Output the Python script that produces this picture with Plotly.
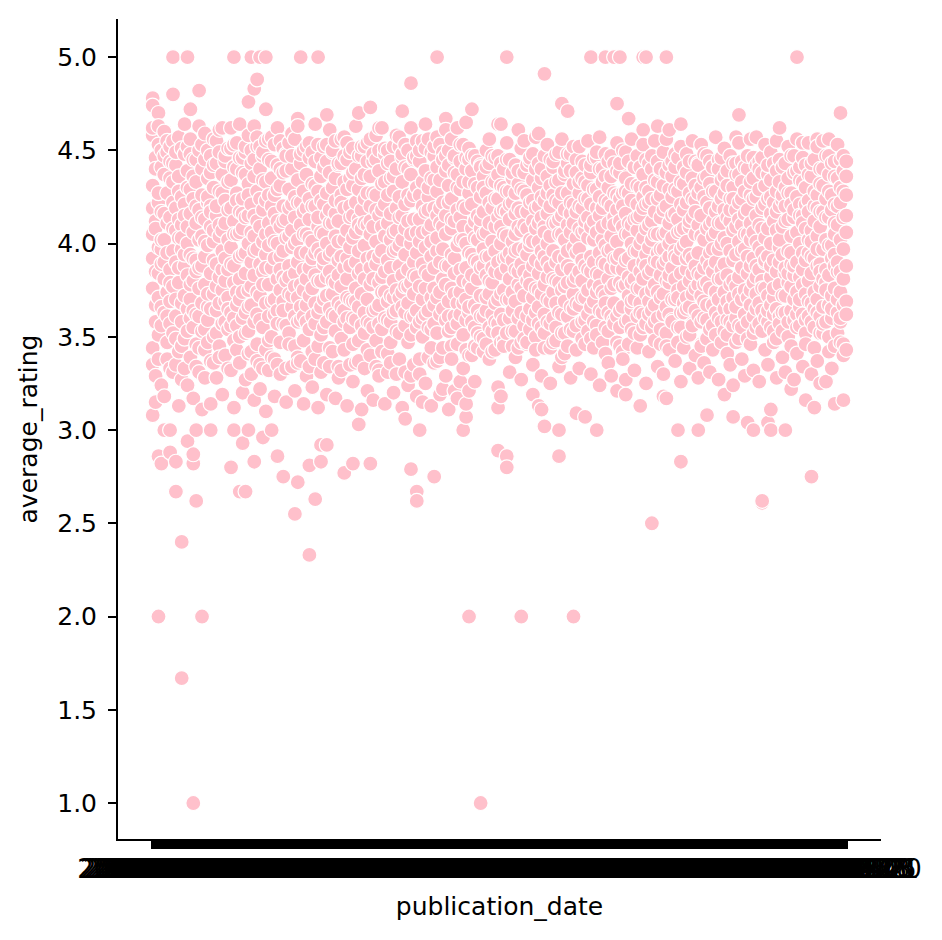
import plotly.graph_objects as go

# publication dates, in the order they appear (one category each)
dates = [
    "2006-09-16", "2004-09-01", "2003-11-01", "2004-05-01", "2004-09-13", "2005-04-26", "2005-09-12", "2005-11-01", "2002-04-30", "2003-08-03",
    "2004-10-01", "2000-03-29", "2001-08-15", "2002-09-01", "2005-01-01", "2003-04-08", "2005-06-01", "2004-02-10", "2006-10-17", "2001-05-01",
    "2007-08-01", "2000-10-03", "2006-05-02", "2003-01-28", "2004-06-08", "2002-11-12", "2005-10-04", "2001-09-11", "2006-03-14", "2007-02-06",
    "2003-06-24", "2004-12-28", "2002-03-19", "2005-08-16", "2000-08-22", "2006-07-25", "2001-01-30", "2007-05-15", "2003-10-14", "2004-03-23",
    "2002-07-09", "2005-03-01", "2006-01-10", "2000-05-16", "2001-11-20", "2007-09-25", "2003-02-18", "2004-08-31", "2005-12-27", "2002-10-29",
    "1999-06-01", "2006-11-07", "2001-03-27", "2004-07-13", "2003-09-30", "2007-01-16", "2000-12-05", "2005-05-10", "2002-01-22", "2006-08-29",
    "1998-10-13", "2003-12-09", "2004-01-06", "2001-06-19", "2005-07-19", "2007-04-03", "2002-05-14", "2006-06-13", "2000-01-25", "1997-09-02",
    "2004-11-16", "2003-03-25", "2005-02-22", "2001-10-16", "2006-12-26", "2002-08-20", "2007-06-12", "1996-04-09", "2000-07-11", "2004-04-27",
    "2003-05-20", "2005-09-27", "2001-02-13", "2006-02-21", "2002-12-17", "1995-11-14", "2007-10-30", "2000-09-19", "2004-10-19", "2003-07-29",
    "2005-11-29", "2001-12-04", "2006-04-18", "2002-02-26", "1999-03-09", "2007-11-27", "2000-04-04", "2004-06-29", "2003-08-26", "2005-06-28",
    "2001-07-24", "2006-09-05", "2002-06-25", "1998-02-17", "2007-03-13", "2000-11-28", "2004-02-24", "2003-11-25", "2005-04-12", "2001-04-17",
    "2006-05-30", "2002-09-24", "1997-05-27", "2007-07-31", "2000-02-29", "2004-09-28", "2003-01-07", "2005-10-25", "2001-09-25", "2006-10-31",
    "2002-04-09", "1996-08-06", "2007-12-18", "2000-06-27", "2004-05-18", "2003-04-29", "2005-01-18", "2001-11-06", "2006-03-28", "2002-11-26",
    "1999-10-19", "2008-01-08", "2000-10-24", "2004-12-07", "2003-06-10", "2005-08-02", "2001-01-09", "2006-07-04", "2002-03-05", "1998-06-30",
    "2008-02-19", "2000-08-08", "2004-03-09", "2003-10-28", "2005-03-22", "2001-05-22", "2006-01-31", "2002-07-30", "1997-12-02", "2008-03-11",
    "2000-05-30", "2004-08-10", "2003-02-04", "2005-12-13", "2001-08-28", "2006-11-21", "2002-10-08", "1999-01-12", "2008-04-15", "2000-12-19",
    "2004-07-27", "2003-09-09", "2005-05-24", "2001-03-13", "2006-08-15", "2002-01-08", "1996-10-22", "2008-05-20", "2000-01-11", "2004-11-30",
    "2003-12-30", "2005-07-05", "2001-06-05", "2006-06-27", "2002-05-28", "1995-03-14", "2008-06-24", "2000-07-25", "2004-04-13", "2003-05-06",
    "2005-09-06", "2001-02-27", "2006-02-07", "2002-12-03", "1998-09-15", "2008-07-29", "2000-09-05", "2004-10-05", "2003-07-15", "2005-11-15",
    "2001-12-18", "2006-04-04", "2002-02-12", "1999-07-20", "2008-08-26", "2000-04-18", "2004-06-15", "2003-08-12", "2005-06-14", "2001-07-10",
    "2006-09-19", "2002-06-11", "1997-02-11", "2008-09-30", "2000-11-14", "2004-02-03", "2003-11-11", "2005-04-05", "2001-04-03", "2006-05-16",
    "2002-09-10", "1996-01-16", "2008-10-28", "2000-02-08", "2004-09-07", "2003-01-21", "2005-10-11", "2001-09-04", "2006-10-10", "2002-04-23",
    "1994-05-10", "2008-11-11", "2000-06-13", "2004-05-04", "2003-04-15", "2005-01-25", "2001-11-13", "2006-03-07", "2002-11-05", "1999-12-14",
    "2009-01-20", "2000-10-10", "2004-12-14", "2003-06-17", "2005-08-23", "2001-01-23", "2006-07-18", "2002-03-26", "2007-08-21", "2004-04-20",
]
assert len(set(dates)) == len(dates)

# average_rating of books published on each date (same order as dates)
ratings = [
    [3.92, 4.31, 3.44, 4.05, 4.58, 4.78, 4.74, 3.08], [4.12, 3.67, 4.46, 3.29, 3.85], [3.71, 4.22, 3.98, 4.53, 3.38, 4.70, 2.0, 2.86], [4.41, 3.56, 3.89, 4.17, 3.24, 2.82],
    [3.63, 4.02, 4.37, 3.81, 4.60, 3.0], [4.27, 3.47, 3.95, 4.49, 3.74], [3.86, 4.14, 3.33, 4.44, 3.69, 2.88, 3.0], [4.08, 3.52, 4.33, 3.77, 4.55, 5.0, 4.80],
    [3.61, 4.19, 3.90, 4.42, 3.35, 2.67, 2.83], [4.36, 3.79, 4.03, 3.42, 4.57], [3.97, 4.25, 3.58, 4.10, 3.27, 1.67, 2.40], [4.48, 3.72, 3.88, 4.21, 3.49],
    [3.83, 4.39, 3.65, 4.00, 4.52, 5.0, 2.94], [4.16, 3.39, 3.94, 4.29, 3.70, 4.72], [3.55, 4.06, 4.45, 3.80, 4.24, 1.0, 2.82, 2.87], [4.33, 3.62, 4.11, 3.46, 3.91, 2.62, 3.0],
    [3.76, 4.50, 3.87, 4.18, 3.31, 4.82], [4.04, 3.68, 4.40, 3.53, 4.26, 2.0], [3.93, 4.13, 3.43, 4.59, 3.78], [4.22, 3.59, 3.99, 4.35, 3.66],
    [3.84, 4.47, 3.37, 4.09, 4.20, 3.0], [4.30, 3.73, 4.01, 3.50, 4.56], [3.64, 4.15, 3.89, 4.43, 3.28], [4.10, 3.45, 4.28, 3.82, 4.61],
    [3.96, 4.37, 3.57, 4.07, 3.75], [4.44, 3.69, 3.92, 4.23, 3.40], [3.71, 4.02, 4.51, 3.86, 3.54], [4.19, 3.63, 4.34, 3.98, 3.32, 2.80],
    [3.88, 4.41, 3.48, 4.12, 3.79, 5.0, 3.0], [4.27, 3.56, 4.05, 4.54, 3.67], [3.81, 4.17, 3.93, 3.36, 4.46, 2.67], [4.08, 3.74, 4.38, 3.60, 4.24, 2.93],
    [3.95, 4.49, 3.52, 4.14, 3.84, 2.67], [4.32, 3.66, 4.00, 3.41, 4.58, 4.76, 3.0], [3.77, 4.21, 3.90, 4.43, 3.30, 5.0], [4.15, 3.58, 4.36, 3.83, 4.04, 4.83, 2.83],
    [3.62, 4.28, 3.97, 4.52, 3.46, 4.88], [4.40, 3.72, 4.09, 3.35, 3.89, 5.0], [3.85, 4.18, 4.47, 3.55, 4.01, 2.96], [4.23, 3.68, 3.94, 4.33, 3.43, 5.0, 4.72],
    [3.99, 4.45, 3.61, 4.11, 3.78], [4.35, 3.50, 4.06, 3.87, 4.57, 3.0], [3.70, 4.26, 3.92, 4.16, 3.38], [4.12, 3.64, 4.42, 3.81, 4.00, 2.86],
    [3.93, 4.31, 3.47, 4.55, 3.75], [4.20, 3.57, 3.96, 4.38, 3.69, 2.75], [3.80, 4.13, 4.48, 3.33, 4.03], [4.29, 3.73, 3.88, 4.19, 3.52],
    [3.66, 4.40, 3.98, 4.07, 4.59], [4.14, 3.45, 4.25, 3.84, 3.61, 2.55], [3.90, 4.34, 3.71, 4.02, 3.39, 4.67, 2.72], [4.43, 3.59, 4.10, 3.78, 4.22, 5.0],
    [3.75, 4.17, 3.86, 4.50, 3.48], [4.05, 3.67, 4.37, 3.95, 3.29], [3.87, 4.24, 3.54, 4.13, 4.46, 2.33, 2.81], [4.32, 3.76, 4.01, 3.42, 3.92],
    [3.68, 4.44, 3.83, 4.20, 3.57, 2.63], [4.09, 3.63, 4.28, 3.97, 4.53, 5.0], [3.94, 4.36, 3.51, 4.06, 3.80, 2.83, 2.92], [4.21, 3.70, 3.89, 4.41, 3.36],
    [3.82, 4.15, 4.00, 3.58, 4.27, 4.69, 2.92], [4.38, 3.65, 4.11, 3.85, 3.44], [3.73, 4.30, 3.96, 4.49, 3.62], [4.16, 3.53, 4.04, 3.79, 4.23],
    [3.91, 4.42, 3.68, 4.12, 3.34], [4.26, 3.77, 3.93, 4.56, 3.49], [3.64, 4.19, 3.87, 4.33, 4.02, 2.77], [4.07, 3.60, 4.45, 3.81, 3.71],
    [3.98, 4.35, 3.55, 4.14, 3.88], [4.31, 3.69, 4.03, 3.46, 4.51, 2.82], [3.76, 4.22, 3.90, 4.40, 3.59], [4.13, 3.66, 4.29, 3.84, 3.37, 4.70, 3.03],
    [3.86, 4.47, 3.73, 4.08, 4.18], [4.24, 3.52, 3.99, 4.37, 3.63], [3.70, 4.10, 4.54, 3.92, 3.43], [4.36, 3.78, 4.05, 3.57, 4.20, 4.73, 2.82],
    [3.93, 4.27, 3.64, 4.44, 3.81], [4.18, 3.48, 4.01, 3.89, 4.58], [3.79, 4.39, 3.67, 4.15, 3.32, 4.62], [4.09, 3.74, 4.32, 3.96, 3.54],
    [3.85, 4.21, 3.60, 4.48, 4.04], [4.43, 3.69, 3.91, 4.11, 3.41], [3.72, 4.16, 3.87, 4.35, 3.58], [4.28, 3.63, 4.06, 3.80, 4.52],
    [3.97, 4.40, 3.53, 4.19, 3.75], [4.14, 3.71, 4.25, 3.88, 3.38], [3.83, 4.33, 3.66, 4.02, 4.46, 4.71], [4.21, 3.56, 3.94, 4.41, 3.77, 3.06],
    [3.68, 4.12, 4.50, 3.86, 3.47], [4.37, 3.79, 4.00, 3.61, 4.23, 4.86, 2.79], [3.90, 4.26, 3.73, 4.45, 3.35], [4.06, 3.64, 4.30, 3.95, 3.82, 2.67, 2.62],
    [3.77, 4.44, 3.58, 4.13, 4.01, 3.0], [4.33, 3.70, 3.89, 4.20, 3.50], [3.85, 4.17, 4.39, 3.62, 3.98], [4.25, 3.55, 4.07, 3.83, 4.56],
    [3.71, 4.35, 3.93, 4.10, 3.44], [4.19, 3.67, 4.47, 3.87, 3.76, 2.75], [3.96, 4.28, 3.52, 4.03, 4.41, 5.0], [4.11, 3.74, 3.90, 4.34, 3.39],
    [3.81, 4.22, 3.65, 4.49, 3.97], [4.39, 3.59, 4.05, 3.78, 4.15, 4.67], [3.69, 4.31, 3.88, 4.42, 3.53], [4.08, 3.76, 4.24, 3.94, 3.45],
    [3.92, 4.46, 3.61, 4.12, 3.84], [4.30, 3.68, 3.99, 4.37, 3.57], [3.74, 4.14, 3.86, 4.53, 4.02], [4.20, 3.51, 4.09, 3.80, 4.33, 3.0],
    [3.87, 4.40, 3.70, 4.00, 3.43, 4.65, 3.07], [4.27, 3.63, 3.95, 4.45, 3.79, 2.0, 3.21], [3.94, 4.21, 3.58, 4.39, 3.76, 4.72], [4.12, 3.67, 4.03, 3.45, 4.47],
    [3.81, 4.30, 3.90, 4.15, 3.52], [4.25, 3.72, 4.08, 3.61, 4.42, 1.0], [3.88, 4.17, 3.49, 4.36, 3.97], [4.06, 3.64, 4.27, 3.83, 4.50],
    [3.73, 4.43, 3.93, 4.11, 3.55], [4.33, 3.79, 4.01, 3.42, 4.19], [3.96, 4.24, 3.68, 4.46, 3.85], [4.14, 3.57, 4.37, 3.90, 3.70, 4.64, 2.89, 3.12],
    [3.84, 4.09, 4.31, 3.62, 4.00, 4.64, 3.18], [4.40, 3.75, 3.92, 4.18, 3.48], [3.70, 4.28, 3.87, 4.04, 4.45, 5.0, 2.86, 2.80], [4.21, 3.60, 4.13, 3.95, 3.81],
    [3.91, 4.35, 3.53, 4.22, 3.74], [4.05, 3.69, 4.42, 3.86, 4.16], [3.78, 4.19, 3.97, 3.44, 4.32, 4.61], [4.29, 3.63, 4.07, 3.89, 4.51, 2.0],
    [3.85, 4.38, 3.72, 4.10, 3.56], [4.17, 3.80, 3.94, 4.26, 3.46], [3.99, 4.44, 3.65, 4.02, 3.83], [4.34, 3.71, 4.12, 3.59, 4.23, 3.19],
    [3.76, 4.08, 3.91, 4.40, 3.50], [4.20, 3.66, 4.30, 3.84, 4.01, 4.59, 3.13], [3.89, 4.25, 3.55, 4.14, 3.73, 3.11], [4.09, 3.78, 4.47, 3.93, 3.62, 4.91, 3.02],
    [3.82, 4.16, 3.70, 4.36, 4.00], [4.31, 3.57, 4.04, 3.87, 4.20], [3.74, 4.41, 3.96, 4.11, 3.47], [4.23, 3.68, 3.90, 4.33, 3.80],
    [3.93, 4.13, 4.49, 3.63, 4.05, 2.86, 3.0], [4.15, 3.75, 3.86, 4.27, 3.52, 4.75], [3.69, 4.37, 4.02, 3.92, 4.18], [4.43, 3.61, 4.10, 3.79, 3.96, 4.71],
    [3.86, 4.22, 3.54, 4.06, 4.39], [4.11, 3.73, 4.32, 3.98, 3.65, 2.0], [3.95, 4.45, 3.82, 4.17, 3.43, 3.09], [4.27, 3.67, 3.97, 4.08, 4.52],
    [3.80, 4.19, 3.58, 4.35, 3.91], [4.07, 3.71, 4.24, 3.88, 4.42, 3.07], [3.75, 4.31, 4.03, 3.62, 4.14], [4.38, 3.85, 3.93, 4.21, 3.49, 5.0],
    [3.90, 4.12, 3.69, 4.46, 3.78], [4.19, 3.56, 4.06, 3.84, 4.29, 3.0], [3.83, 4.40, 3.95, 4.15, 3.64], [4.02, 3.74, 4.33, 3.47, 4.09],
    [3.72, 4.23, 3.89, 4.48, 3.99, 5.0], [4.30, 3.63, 4.11, 3.81, 3.53], [3.97, 4.36, 3.76, 4.04, 4.20], [4.14, 3.68, 4.43, 3.92, 3.59, 5.0],
    [3.87, 4.18, 3.61, 4.26, 4.01, 4.75, 3.21], [4.24, 3.79, 3.94, 4.38, 3.45, 5.0], [3.77, 4.09, 4.50, 3.86, 3.66], [4.35, 3.58, 4.05, 4.16, 3.91, 3.19],
    [3.92, 4.27, 3.72, 4.44, 3.82, 4.67], [4.10, 3.65, 4.00, 3.54, 4.32], [3.81, 4.41, 3.88, 4.13, 3.70], [4.21, 3.76, 4.07, 3.96, 4.47],
    [3.68, 4.15, 3.85, 4.30, 3.51, 3.13], [4.03, 3.62, 4.37, 3.90, 4.19, 5.0, 4.61], [3.94, 4.45, 3.73, 4.08, 3.57, 5.0], [4.28, 3.69, 3.98, 4.22, 3.84],
    [3.86, 4.12, 4.40, 3.64, 4.02, 2.50], [4.17, 3.78, 3.91, 4.34, 3.48], [3.74, 4.24, 3.60, 4.05, 3.95, 4.63], [4.39, 3.83, 4.14, 3.71, 4.26],
    [3.89, 4.31, 3.97, 4.49, 3.62, 3.18], [4.06, 3.66, 4.20, 3.80, 3.52, 5.0, 3.17], [3.79, 4.42, 3.93, 4.11, 4.00, 4.61], [4.25, 3.59, 4.03, 3.87, 4.36],
    [3.96, 4.16, 3.70, 4.29, 3.81], [4.13, 3.75, 4.46, 3.92, 3.55, 3.0], [3.84, 4.21, 3.63, 4.07, 4.33, 4.64, 2.83], [4.32, 3.68, 3.99, 4.18, 3.77],
    [3.71, 4.38, 3.86, 4.01, 3.50], [4.09, 3.80, 4.27, 3.94, 4.44], [3.92, 4.14, 3.57, 4.35, 3.73], [4.23, 3.64, 4.05, 3.88, 4.17],
    [3.78, 4.43, 3.95, 4.10, 3.61, 3.0], [4.15, 3.72, 4.30, 3.83, 3.46], [3.87, 4.25, 3.69, 4.48, 4.02], [4.36, 3.59, 4.08, 3.91, 3.79, 3.08],
    [3.95, 4.19, 3.76, 4.32, 3.54], [4.04, 3.67, 4.41, 3.85, 4.12], [3.73, 4.28, 3.90, 4.06, 3.63], [4.20, 3.81, 3.97, 4.45, 3.70],
    [3.86, 4.11, 4.34, 3.58, 4.00], [4.27, 3.74, 4.03, 3.89, 4.18, 3.19], [3.69, 4.39, 3.83, 4.14, 3.51], [4.12, 3.65, 4.24, 3.96, 4.47],
    [3.91, 4.30, 3.71, 4.07, 3.80, 3.07], [4.18, 3.77, 3.94, 4.37, 3.60, 4.57], [3.82, 4.22, 4.01, 3.56, 4.13, 4.69], [4.33, 3.70, 4.10, 3.87, 4.44],
    [3.97, 4.16, 3.62, 4.28, 3.75], [4.05, 3.84, 4.40, 3.93, 3.49, 3.04], [3.75, 4.26, 3.88, 4.11, 4.02], [4.24, 3.61, 4.06, 3.79, 4.35, 3.0],
    [3.88, 4.42, 3.73, 4.15, 3.55, 4.57], [4.10, 3.68, 4.29, 3.98, 3.86], [3.80, 4.19, 3.95, 4.46, 3.64, 2.61, 2.62], [4.31, 3.76, 4.03, 3.90, 4.21],
    [3.93, 4.37, 3.58, 4.08, 3.72, 3.04], [4.16, 3.82, 4.25, 3.67, 4.00, 3.0, 3.11], [3.71, 4.12, 3.91, 4.43, 3.53], [4.28, 3.65, 4.07, 3.85, 4.17],
    [3.98, 4.33, 3.78, 4.02, 3.61, 4.62], [4.09, 3.72, 4.41, 3.94, 4.23], [3.84, 4.20, 3.63, 4.30, 3.87, 3.0], [4.35, 3.79, 3.96, 4.13, 3.50],
    [3.77, 4.27, 3.89, 4.47, 4.04, 3.22], [4.14, 3.59, 4.18, 3.83, 3.70], [3.90, 4.39, 3.74, 4.06, 4.25, 5.0], [4.21, 3.66, 4.00, 4.34, 3.56],
    [3.86, 4.15, 3.95, 3.62, 4.11, 4.54], [4.30, 3.73, 4.08, 3.91, 4.42, 3.16], [3.95, 4.23, 3.69, 4.17, 3.80], [4.07, 3.84, 4.36, 3.58, 4.01, 2.75],
    [3.74, 4.12, 3.92, 4.45, 3.65, 3.12], [4.26, 3.70, 4.04, 3.88, 4.19, 4.56], [3.89, 4.32, 3.61, 4.09, 3.77, 3.25], [4.17, 3.81, 4.40, 3.97, 3.52],
    [3.79, 4.24, 3.86, 4.14, 4.02], [4.37, 3.67, 3.99, 3.83, 4.28, 4.56], [3.92, 4.18, 3.72, 4.43, 3.60], [4.11, 3.76, 4.21, 3.94, 4.05, 3.14],
    [3.85, 4.35, 3.63, 4.10, 3.90], [4.22, 3.58, 4.02, 4.30, 3.74, 4.70], [3.97, 4.14, 3.81, 4.39, 3.46, 3.16], [4.06, 3.69, 4.26, 3.88, 4.44],
]

# a second batch of books for the same dates
more_ratings = [
    [4.62, 3.35, 3.76, 4.19], [3.58, 4.40, 3.15, 4.08], [4.27, 3.84, 3.51, 4.63], [3.97, 4.50, 3.66, 4.02],
    [3.18, 4.16, 3.90, 4.47], [4.55, 3.61, 4.11, 3.38], [3.79, 4.35, 3.57, 4.52], [4.22, 3.31, 3.96, 4.43],
    [3.70, 4.49, 4.07, 3.49], [4.13, 3.13, 3.87, 4.28], [4.51, 3.68, 3.45, 4.03], [3.33, 4.15, 4.64, 3.94],
    [4.09, 3.53, 3.24, 4.30], [3.60, 4.48, 3.78, 4.56], [4.36, 3.17, 3.92, 3.64], [3.85, 4.45, 4.20, 3.34],
    [4.02, 3.44, 4.63, 3.61], [3.11, 3.88, 4.14, 4.53], [4.45, 3.54, 4.01, 3.28], [3.73, 4.25, 4.50, 3.47],
    [4.17, 3.65, 3.14, 4.38], [3.91, 4.42, 3.36, 4.07], [4.55, 3.52, 4.20, 3.77], [3.39, 4.04, 3.68, 4.49],
    [4.27, 3.19, 4.62, 3.86], [3.80, 4.47, 3.58, 4.11], [4.33, 3.33, 4.18, 3.65], [3.56, 4.51, 3.89, 4.62],
    [4.05, 3.60, 4.53, 3.12], [3.43, 4.23, 3.74, 4.40], [4.64, 3.50, 4.06, 3.70], [3.20, 3.94, 4.46, 4.16],
    [4.37, 3.63, 3.27, 4.52], [3.75, 4.15, 3.53, 4.26], [4.50, 3.42, 4.06, 3.67], [3.16, 4.63, 3.96, 4.45],
    [4.12, 3.74, 3.37, 4.57], [3.59, 4.24, 4.52, 3.22], [4.34, 3.33, 3.78, 4.49], [3.87, 4.55, 3.10, 4.05],
    [4.26, 3.48, 4.56, 3.32], [3.69, 4.20, 3.39, 4.44], [4.53, 3.62, 4.01, 3.18], [3.35, 4.29, 3.57, 4.62],
    [4.09, 3.30, 4.40, 3.86], [3.64, 4.51, 3.82, 4.12], [4.39, 3.56, 3.15, 4.47], [3.46, 4.04, 4.54, 3.82],
    [4.21, 3.34, 3.72, 4.47], [3.77, 4.56, 3.21, 4.00], [4.63, 3.58, 4.22, 3.36], [3.37, 3.95, 4.48, 3.66],
    [4.28, 3.14, 4.05, 3.61], [3.58, 4.52, 4.19, 3.81], [4.03, 3.34, 4.54, 3.72], [3.61, 4.49, 3.23, 4.20],
    [4.31, 3.38, 4.64, 3.95], [3.45, 4.14, 3.80, 3.12], [4.46, 3.66, 4.23, 3.31], [3.55, 4.05, 4.52, 3.92],
    [4.44, 3.19, 3.72, 4.53], [3.94, 4.61, 3.34, 4.18], [4.11, 3.42, 4.50, 3.80], [3.17, 4.35, 3.61, 4.55],
    [4.43, 3.83, 3.28, 4.01], [3.66, 4.22, 4.43, 3.32], [4.47, 3.43, 3.58, 4.57], [3.13, 4.29, 3.92, 4.54],
    [4.20, 3.70, 4.49, 3.35], [3.60, 4.15, 3.26, 4.38], [4.63, 3.36, 4.06, 3.69], [3.48, 4.47, 3.96, 4.10],
    [4.35, 3.11, 3.56, 4.52], [3.81, 4.52, 3.33, 4.11], [4.27, 3.58, 3.21, 4.44], [3.40, 4.56, 3.87, 4.12],
    [4.48, 3.16, 4.09, 3.55], [3.65, 4.26, 3.34, 4.45], [4.50, 3.57, 3.93, 3.29], [3.42, 4.62, 4.18, 3.82],
    [4.33, 3.14, 3.74, 4.51], [3.59, 4.50, 3.31, 4.26], [4.44, 3.47, 4.02, 3.36], [3.20, 4.36, 3.71, 3.96],
    [4.58, 3.64, 3.30, 4.07], [3.52, 4.52, 3.99, 4.57], [4.15, 3.12, 4.48, 3.74], [3.63, 4.08, 3.31, 4.53],
    [4.40, 3.24, 3.77, 4.26], [3.51, 4.62, 3.29, 4.05], [4.46, 3.61, 4.13, 3.83], [3.18, 4.47, 3.55, 4.55],
    [4.26, 3.38, 4.50, 3.30], [3.60, 4.55, 3.15, 4.06], [4.51, 3.25, 3.76, 4.64], [3.39, 4.18, 3.64, 4.30],
    [4.49, 3.54, 4.01, 3.13], [3.36, 4.34, 3.57, 4.52], [4.15, 3.37, 4.57, 3.71], [3.62, 4.53, 3.19, 4.19],
    [4.45, 3.44, 3.22, 4.09], [3.29, 4.47, 3.88, 4.61], [4.22, 3.61, 3.11, 4.50], [3.55, 4.56, 3.38, 4.13],
    [4.38, 3.21, 3.73, 4.47], [3.46, 4.62, 4.18, 3.17], [4.29, 3.26, 3.62, 4.44], [3.68, 4.53, 3.33, 4.02],
    [4.46, 3.14, 4.19, 3.59], [3.40, 4.33, 4.51, 3.66], [4.47, 3.40, 3.83, 4.08], [3.55, 4.32, 3.91, 3.26],
    [4.44, 3.64, 4.02, 3.44], [3.50, 4.13, 3.87, 4.41], [4.30, 3.61, 4.05, 3.42], [3.46, 4.41, 3.93, 3.71],
    [4.22, 3.38, 4.56, 3.80], [3.62, 4.47, 3.87, 3.53], [4.09, 3.43, 4.33, 3.58], [3.52, 4.24, 4.47, 3.23],
    [4.43, 3.47, 3.73, 4.17], [3.59, 4.30, 4.05, 3.45], [4.17, 3.52, 4.54, 3.93], [3.31, 4.45, 3.70, 4.28],
    [4.38, 3.64, 4.01, 3.45], [3.53, 4.27, 3.39, 3.96], [4.39, 3.60, 4.09, 3.85], [3.47, 4.17, 3.76, 3.27],
    [4.28, 3.49, 4.55, 3.97], [3.61, 4.42, 4.08, 3.47], [4.22, 3.54, 3.78, 4.46], [3.35, 4.01, 4.48, 3.88],
    [4.57, 3.63, 3.43, 4.19], [3.57, 4.43, 3.75, 4.11], [4.35, 3.29, 4.40, 3.96], [3.52, 4.23, 4.06, 3.44],
    [4.53, 3.58, 3.90, 4.27], [3.44, 4.45, 3.69, 3.25], [4.26, 3.60, 3.81, 4.44], [3.55, 4.11, 4.48, 3.48],
    [4.34, 3.34, 3.79, 4.22], [3.62, 4.56, 4.05, 3.39], [4.39, 3.52, 3.77, 3.41], [3.45, 4.27, 3.88, 4.48],
    [4.16, 3.66, 4.48, 3.28], [3.53, 4.52, 3.80, 4.21], [4.38, 3.56, 4.03, 3.68], [3.33, 4.20, 3.85, 4.33],
    [4.44, 3.49, 4.06, 3.71], [3.59, 4.33, 3.46, 4.12], [4.55, 3.53, 3.86, 4.24], [3.30, 4.09, 4.42, 3.66],
    [4.29, 3.58, 4.02, 3.44], [3.51, 4.46, 3.74, 4.49], [4.25, 3.24, 4.57, 3.77], [3.63, 4.19, 4.40, 3.90],
    [4.36, 3.55, 3.68, 3.41], [3.36, 4.44, 3.96, 4.22], [4.47, 3.61, 3.29, 3.87], [3.57, 4.27, 4.10, 3.78],
    [4.54, 3.47, 3.92, 4.39], [3.64, 4.12, 4.43, 3.55], [4.27, 3.42, 4.20, 3.38], [3.27, 4.49, 3.78, 4.28],
    [4.11, 3.59, 3.46, 4.05], [3.69, 4.56, 4.23, 3.79], [4.41, 3.52, 3.96, 3.32], [3.44, 4.31, 3.61, 4.14],
    [4.41, 3.76, 4.00, 3.63], [3.55, 4.25, 3.81, 4.53], [4.30, 3.25, 4.21, 3.88], [3.62, 4.43, 3.42, 4.10],
    [4.24, 3.55, 3.75, 4.47], [3.67, 4.05, 4.55, 3.58], [4.44, 3.34, 3.90, 4.33], [3.54, 4.40, 3.97, 3.46],
    [4.18, 3.73, 3.30, 4.05], [3.45, 4.38, 4.56, 3.91], [4.29, 3.62, 3.43, 3.83], [3.58, 4.15, 4.44, 3.70],
    [4.48, 3.37, 3.93, 4.41], [3.47, 4.28, 3.71, 4.06], [4.52, 3.55, 3.97, 3.26], [3.63, 4.41, 4.08, 3.44],
    [4.22, 3.65, 4.48, 3.92], [3.51, 4.12, 3.66, 3.33], [4.55, 3.84, 4.24, 3.56], [3.40, 4.44, 3.76, 4.31],
    [4.27, 3.28, 3.84, 4.42], [3.58, 4.53, 4.04, 3.45], [4.35, 3.60, 3.78, 3.36], [3.49, 4.22, 4.47, 3.67],
    [4.44, 3.31, 4.10, 3.88], [3.56, 4.28, 3.43, 3.97], [4.57, 3.74, 4.17, 3.51], [3.60, 4.11, 4.40, 3.27],
    [4.24, 3.47, 3.81, 4.46], [3.53, 4.51, 3.65, 4.36], [4.31, 3.59, 4.00, 3.41], [3.35, 4.18, 3.78, 3.58],
    [4.43, 3.56, 4.24, 3.24], [3.66, 4.43, 3.47, 4.09], [4.37, 3.49, 3.73, 4.54], [3.55, 4.24, 3.96, 3.38],
    [4.41, 3.62, 4.05, 3.29], [3.71, 4.47, 4.18, 3.58], [4.33, 3.46, 3.67, 4.56], [3.52, 4.46, 3.92, 3.32],
    [4.25, 3.65, 4.01, 3.82], [3.26, 4.44, 3.57, 4.40], [4.38, 3.53, 3.76, 4.08], [3.60, 4.53, 3.43, 3.91],
    [4.42, 3.64, 4.24, 3.35], [3.55, 4.34, 3.88, 4.49], [4.22, 3.47, 3.76, 3.62], [3.49, 4.55, 4.39, 3.28],
    [4.45, 3.57, 3.90, 4.20], [3.63, 4.26, 3.53, 3.39], [4.43, 3.31, 4.12, 3.72], [3.58, 4.52, 3.84, 4.27],
    [4.21, 3.64, 3.45, 3.95], [3.27, 4.47, 4.38, 3.88], [4.56, 3.55, 3.62, 3.41], [3.70, 4.41, 4.15, 3.82],
    [4.33, 3.34, 3.78, 4.46], [3.59, 4.21, 3.52, 3.46], [4.54, 3.61, 4.02, 4.37], [3.30, 4.43, 3.93, 3.68],
    [4.28, 3.55, 4.20, 3.44], [3.63, 4.52, 3.37, 3.97], [4.40, 3.52, 4.17, 3.85], [3.57, 4.31, 3.66, 4.55],
    [4.47, 3.26, 3.75, 3.58], [3.50, 4.47, 4.14, 3.42], [4.26, 3.65, 3.33, 3.99], [3.45, 4.44, 3.88, 4.36],
    [4.53, 3.52, 4.20, 3.70], [3.60, 4.45, 3.47, 3.85], [4.28, 3.40, 3.67, 4.47], [3.43, 4.36, 3.62, 4.15],
]
assert len(ratings) == len(dates) == len(more_ratings)

x_vals = [d for d, a, b in zip(dates, ratings, more_ratings) for _ in a + b]
y_vals = [r for a, b in zip(ratings, more_ratings) for r in a + b]

font = dict(family="DejaVu Sans", size=25, color="black")

fig = go.Figure()
fig.add_trace(go.Scatter(
    x=x_vals, y=y_vals, mode="markers",
    marker=dict(color="pink", size=15, line=dict(color="white", width=1.2)),
    showlegend=False,
))

n = len(dates)
fig.update_layout(
    width=934, height=933,
    margin=dict(l=110, r=61, t=11, b=102),
    plot_bgcolor="white", paper_bgcolor="white",
    font=font,
    xaxis=dict(
        type="category", categoryorder="array", categoryarray=dates,
        range=[-0.05 * (n - 1), (n - 1) * 1.05],
        tickmode="array", tickvals=dates, ticktext=dates, tickangle=0,
        showgrid=False, zeroline=False,
        showline=True, linecolor="black", linewidth=2,
        ticks="outside", ticklen=8, tickwidth=3, tickcolor="black",
        tickfont=dict(family="DejaVu Sans", size=26, color="black"),
        ticklabelstandoff=-2,
        title=dict(text="publication_date", font=font, standoff=14),
    ),
    yaxis=dict(
        range=[0.807, 5.204],
        tickmode="array", tickvals=[1.0, 1.5, 2.0, 2.5, 3.0, 3.5, 4.0, 4.5, 5.0],
        tickformat=".1f",
        showgrid=False, zeroline=False,
        showline=True, linecolor="black", linewidth=2,
        ticks="outside", ticklen=8, tickwidth=2, tickcolor="black",
        tickfont=font, ticklabelstandoff=6,
        title=dict(text="average_rating", font=font, standoff=12),
    ),
)

fig.write_html("out.html")
